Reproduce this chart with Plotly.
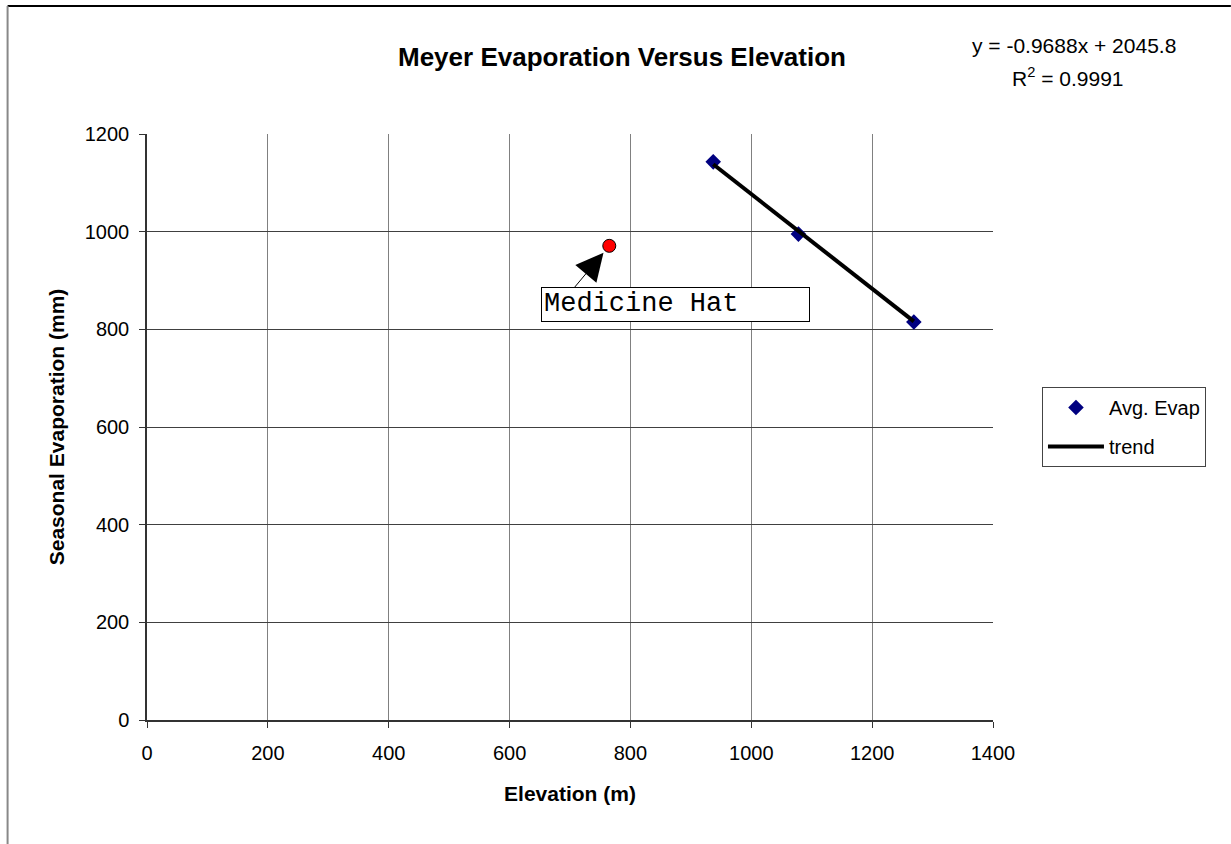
import numpy as np
import plotly.graph_objects as go

# Data
elev = [937, 1078, 1269]
evap = [1143, 995, 815]
mh_elev = [765]
mh_evap = [971]
slope = -0.9688
intercept = 2045.8
r2 = 0.9991
trend_x = np.array([min(elev), max(elev)])
trend_y = slope * trend_x + intercept

x_ticks = [0, 200, 400, 600, 800, 1000, 1200, 1400]
y_ticks = [0, 200, 400, 600, 800, 1000, 1200]

W, H = 1231, 844
L, R, T, B = 146.5, 993, 134, 720

def px(x):
    return (x - L) / (R - L)

def py(y):
    return (B - y) / (B - T)

FONT = "Arial, Liberation Sans"

fig = go.Figure()
fig.add_trace(go.Scatter(x=elev, y=evap, mode="markers", name="Avg. Evap",
                         legendgroup="a",
                         marker=dict(symbol="diamond", size=12, color="#000080",
                                     line=dict(width=0))))
fig.add_trace(go.Scatter(x=trend_x, y=trend_y, mode="lines", name="trend",
                         legendgroup="b",
                         line=dict(color="black", width=4)))
fig.add_trace(go.Scatter(x=mh_elev, y=mh_evap, mode="markers", showlegend=False,
                         marker=dict(symbol="circle", size=13, color="#ff0000",
                                     line=dict(color="black", width=1))))

axis_font = dict(family=FONT, size=20, color="black")
fig.update_layout(
    width=W, height=H,
    margin=dict(l=L, r=W - R, t=T, b=H - B),
    paper_bgcolor="white", plot_bgcolor="white",
    font=dict(family=FONT, color="black"),
    showlegend=True,
    legend=dict(x=px(1042), y=py(387), xanchor="left", yanchor="top",
                bordercolor="#444", borderwidth=1, bgcolor="white",
                font=dict(family=FONT, size=20, color="black"),
                itemwidth=56, tracegroupgap=10, traceorder="grouped"),
    xaxis=dict(range=[0, 1400], tickvals=x_ticks, showgrid=True,
               gridcolor="#808080", gridwidth=1, zeroline=False,
               showline=True, linecolor="#333", linewidth=1.5,
               ticks="outside", ticklen=6, tickcolor="#333",
               tickfont=axis_font, ticklabelstandoff=8,
               title=dict(text="<b>Elevation (m)</b>", standoff=24,
                          font=dict(family=FONT, size=21))),
    yaxis=dict(range=[0, 1200], tickvals=y_ticks, showgrid=True,
               gridcolor="#404040", gridwidth=1, zeroline=False,
               showline=True, linecolor="#333", linewidth=1.5,
               ticks="outside", ticklen=6, tickcolor="#333",
               tickfont=axis_font, ticklabelstandoff=6,
               title=dict(text="<b>Seasonal Evaporation (mm)</b>", standoff=14,
                          font=dict(family=FONT, size=21))),
)

annotations = [
    dict(text="<b>Meyer Evaporation Versus Elevation</b>", xref="paper", yref="paper",
         x=px(622), y=py(57), xanchor="center", yanchor="middle", showarrow=False,
         font=dict(family=FONT, size=26, color="black")),
    dict(text=f"y = {slope}x + {intercept}", xref="paper", yref="paper",
         x=px(1178), y=py(46), xanchor="right", yanchor="middle", showarrow=False,
         font=dict(family=FONT, size=21, color="black")),
    dict(text=f"R<sup>2</sup> = {r2}", xref="paper", yref="paper",
         x=px(1126), y=py(77), xanchor="right", yanchor="middle", showarrow=False,
         font=dict(family=FONT, size=21, color="black")),
    dict(text="Medicine Hat", xref="paper", yref="paper",
         x=px(541), y=py(287), xanchor="left", yanchor="top", showarrow=False,
         width=263, height=29, align="left", valign="bottom",
         bordercolor="black", borderwidth=1, borderpad=2, bgcolor="white",
         font=dict(family="Liberation Mono, Courier New", size=27, color="black")),
    dict(text="", x=mh_elev[0], y=mh_evap[0], xref="x", yref="y",
         showarrow=True, arrowhead=2, arrowsize=5.5, arrowwidth=1, standoff=9,
         arrowcolor="black", ax=-36, ay=43),
]
fig.update_layout(annotations=annotations)

fig.add_shape(type="line", xref="paper", yref="paper",
              x0=px(7), x1=px(1231), y0=py(6), y1=py(6),
              line=dict(color="black", width=2))
fig.add_shape(type="line", xref="paper", yref="paper",
              x0=px(7), x1=px(7), y0=py(6), y1=py(844),
              line=dict(color="#888", width=2))

fig.write_html("out.html")
